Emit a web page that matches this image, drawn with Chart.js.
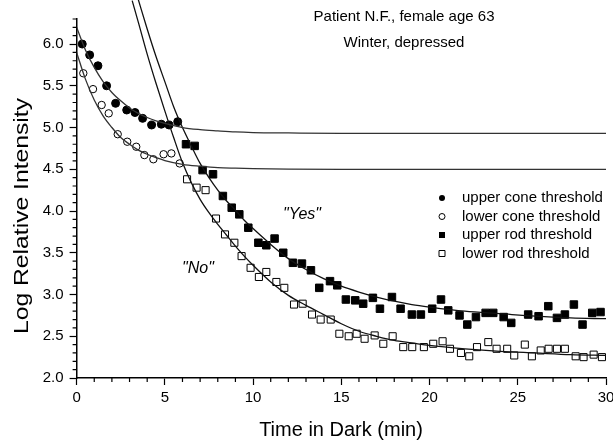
<!DOCTYPE html>
<html>
<head>
<meta charset="utf-8">
<script src="https://cdn.jsdelivr.net/npm/chart.js@4.4.1/dist/chart.umd.min.js"></script>
<style>
  html, body { margin: 0; padding: 0; background: #fff; }
  #wrap { width: 613px; height: 443px; position: relative; }
</style>
</head>
<body>
<div id="wrap"><canvas id="darkChart"></canvas></div>
<script>
// Dark adaptation thresholds - Patient N.F., winter, depressed
// Measured points (time in min, log relative intensity)

const upperConeTime = [0.32, 0.74, 1.21, 1.70, 2.21, 2.84, 3.31, 3.74, 4.25, 4.80, 5.24, 5.73];
const upperConeLog  = [6.00, 5.87, 5.74, 5.50, 5.29, 5.21, 5.18, 5.11, 5.03, 5.04, 5.03, 5.07];

const lowerConeTime = [0.38, 0.93, 1.42, 1.82, 2.33, 2.87, 3.38, 3.84, 4.35, 4.93, 5.37, 5.84];
const lowerConeLog  = [5.65, 5.46, 5.27, 5.17, 4.92, 4.83, 4.77, 4.67, 4.62, 4.68, 4.69, 4.57];

const upperRodTime = [6.20, 6.69, 7.14, 7.73, 8.29, 8.79, 9.22, 9.73, 10.30, 10.75, 11.22, 11.71,
    12.26, 12.77, 13.28, 13.75, 14.36, 14.77, 15.26, 15.79, 16.24, 16.79, 17.19, 17.87, 18.36,
    19.00, 19.51, 20.15, 20.65, 21.06, 21.70, 22.14, 22.63, 23.18, 23.61, 24.20, 24.63, 25.59,
    26.18, 26.73, 27.22, 27.67, 28.18, 28.67, 29.22, 29.69];
const upperRodLog = [4.80, 4.78, 4.49, 4.44, 4.18, 4.04, 3.96, 3.80, 3.62, 3.59, 3.67, 3.50,
    3.38, 3.37, 3.29, 3.08, 3.16, 3.11, 2.94, 2.93, 2.89, 2.96, 2.83, 2.97, 2.83,
    2.76, 2.76, 2.83, 2.94, 2.81, 2.75, 2.64, 2.73, 2.78, 2.78, 2.73, 2.66, 2.76,
    2.74, 2.86, 2.72, 2.76, 2.88, 2.64, 2.78, 2.79];

const lowerRodTime = [6.26, 6.80, 7.31, 7.90, 8.41, 8.94, 9.35, 9.86, 10.33, 10.75, 11.32, 11.77,
    12.32, 12.81, 13.34, 13.83, 14.40, 14.89, 15.42, 15.87, 16.32, 16.89, 17.38, 17.91, 18.51,
    19.02, 19.68, 20.21, 20.74, 21.16, 21.78, 22.25, 22.69, 23.33, 23.80, 24.40, 24.80, 25.40,
    25.80, 26.30, 26.75, 27.22, 27.67, 28.28, 28.73, 29.30, 29.77];
const lowerRodLog = [4.38, 4.28, 4.25, 3.91, 3.72, 3.62, 3.46, 3.32, 3.21, 3.27, 3.15, 3.08,
    2.88, 2.89, 2.76, 2.70, 2.70, 2.53, 2.50, 2.53, 2.47, 2.51, 2.41, 2.50, 2.37,
    2.37, 2.37, 2.41, 2.44, 2.35, 2.30, 2.26, 2.37, 2.43, 2.35, 2.35, 2.27, 2.40,
    2.26, 2.33, 2.35, 2.35, 2.35, 2.26, 2.25, 2.28, 2.25];

// Fitted curves
const coneFitTime = [0, 0.5, 1, 1.5, 2, 2.5, 3, 3.5, 4, 4.5, 5, 6, 7, 8, 9, 10, 12, 15, 20, 25, 30];
const upperConeFit = [6.20, 5.93, 5.72, 5.55, 5.42, 5.32, 5.235, 5.17, 5.12, 5.08, 5.05, 5.00,
    4.975, 4.96, 4.947, 4.94, 4.935, 4.93, 4.93, 4.93, 4.93];
const lowerConeFit = [5.90, 5.58, 5.33, 5.14, 5.00, 4.88, 4.80, 4.73, 4.68, 4.64, 4.605, 4.56,
    4.537, 4.52, 4.513, 4.508, 4.503, 4.50, 4.50, 4.50, 4.50];

const yesFitTime = [3.5, 4, 4.5, 5, 5.5, 6, 6.5, 7, 7.5, 8, 8.5, 9, 9.5, 10, 11, 12, 13, 14, 15,
    16, 17, 18, 19, 20, 22, 24, 26, 28, 30];
const yesFit = [6.53, 6.18, 5.85, 5.55, 5.25, 5.00, 4.78, 4.57, 4.40, 4.25, 4.12, 4.01, 3.89, 3.79,
    3.60, 3.43, 3.30, 3.19, 3.10, 3.03, 2.97, 2.92, 2.88, 2.85, 2.80, 2.77, 2.74, 2.72, 2.71];

const noFitTime = [3.15, 3.5, 4, 4.5, 5, 5.5, 6, 6.5, 7, 7.5, 8, 8.5, 9, 9.5, 10, 11, 12, 13, 14,
    15, 16, 17, 18, 19, 20, 22, 24, 26, 28, 30];
const noFit = [6.52, 6.26, 5.88, 5.53, 5.20, 4.88, 4.58, 4.34, 4.14, 3.98, 3.84, 3.71, 3.58, 3.46,
    3.35, 3.15, 2.99, 2.87, 2.76, 2.65, 2.56, 2.50, 2.45, 2.42, 2.39, 2.35, 2.32, 2.30, 2.28, 2.27];

// Axis ticks
const xTicks = [0, 5, 10, 15, 20, 25, 30];
const xTickLabels = ["0", "5", "10", "15", "20", "25", "30"];
const yTicks = [2.0, 2.5, 3.0, 3.5, 4.0, 4.5, 5.0, 5.5, 6.0];
const yTickLabels = ["2.0", "2.5", "3.0", "3.5", "4.0", "4.5", "5.0", "5.5", "6.0"];

const legendLabels = ["upper cone threshold", "lower cone threshold", "upper rod threshold", "lower rod threshold"];

const FONT = "'Liberation Sans', Arial, Helvetica, sans-serif";

function pairs(xs, ys) {
    return xs.map(function(x, i) { return { x: x, y: ys[i] }; });
}

function fitLine(xs, ys, color) {
    return {
        data: pairs(xs, ys),
        showLine: true,
        borderColor: color,
        borderWidth: 1.3,
        pointRadius: 0,
        pointHoverRadius: 0,
        cubicInterpolationMode: "monotone",
        fill: false,
        clip: { left: 0, top: false, right: 0, bottom: 0 }
    };
}

const datasets = [
    fitLine(coneFitTime, upperConeFit, "#333"),
    fitLine(coneFitTime, lowerConeFit, "#333"),
    fitLine(yesFitTime, yesFit, "#111"),
    fitLine(noFitTime, noFit, "#111"),
    {
        label: legendLabels[0],
        data: pairs(upperConeTime, upperConeLog),
        pointStyle: "circle", pointRadius: 4,
        backgroundColor: "#000", borderColor: "#000", borderWidth: 1
    },
    {
        label: legendLabels[1],
        data: pairs(lowerConeTime, lowerConeLog),
        pointStyle: "circle", pointRadius: 3.7,
        backgroundColor: "#fff", borderColor: "#000", borderWidth: 1
    },
    {
        label: legendLabels[2],
        data: pairs(upperRodTime, upperRodLog),
        pointStyle: "rect", pointRadius: 5.3,
        backgroundColor: "#000", borderColor: "#000", borderWidth: 1
    },
    {
        label: legendLabels[3],
        data: pairs(lowerRodTime, lowerRodLog),
        pointStyle: "rect", pointRadius: 5.0,
        backgroundColor: "#fff", borderColor: "#000", borderWidth: 1
    }
];

// minor ticks, legend and free text
const decorPlugin = {
    id: "decor",
    afterDraw(chart) {
        const ctx = chart.ctx;
        const xs = chart.scales.x;
        const ys = chart.scales.y;
        const area = chart.chartArea;
        ctx.save();
        ctx.strokeStyle = "#000";
        ctx.lineWidth = 1.2;

        // minor ticks
        ctx.beginPath();
        for (let t = 1; t < 30; t++) {
            if (t % 5 === 0) continue;
            const px = xs.getPixelForValue(t);
            ctx.moveTo(px, area.bottom);
            ctx.lineTo(px, area.bottom + 4);
        }
        for (let k = 21; k <= 63; k++) {
            if (k % 5 === 0) continue;
            const py = ys.getPixelForValue(k / 10);
            ctx.moveTo(area.left - 4, py);
            ctx.lineTo(area.left, py);
        }
        ctx.stroke();

        // titles
        ctx.fillStyle = "#000";
        ctx.textAlign = "center";
        ctx.textBaseline = "middle";
        ctx.font = "15px " + FONT;
        ctx.fillText("Patient N.F., female age 63", 404, 17);
        ctx.fillText("Winter, depressed", 404, 43);

        ctx.font = "italic 16px " + FONT;
        ctx.fillText("\"Yes\"", 302, 215);
        ctx.fillText("\"No\"", 198, 269);

        ctx.font = "20px " + FONT;
        ctx.fillText("Time in Dark (min)", 341, 430);

        // y title is set wider in the original
        ctx.save();
        ctx.font = "21px " + FONT;
        const yTitle = "Log Relative Intensity";
        const stretch = 236 / ctx.measureText(yTitle).width;
        ctx.translate(22, 216);
        ctx.rotate(-Math.PI / 2);
        ctx.scale(stretch, 1);
        ctx.fillText(yTitle, 0, 0);
        ctx.restore();

        // legend
        const rowY = [198, 216.5, 235, 253.5];
        ctx.font = "15px " + FONT;
        ctx.textAlign = "left";
        for (let i = 0; i < 4; i++) {
            const cx = 442, cy = rowY[i];
            ctx.beginPath();
            if (i < 2) {
                ctx.arc(cx, cy, 3, 0, Math.PI * 2);
            } else {
                ctx.rect(cx - 3, cy - 3, 6, 6);
            }
            if (i % 2 === 0) {
                ctx.fillStyle = "#000";
                ctx.fill();
            } else {
                ctx.lineWidth = 1;
                ctx.stroke();
            }
            ctx.fillStyle = "#000";
            ctx.fillText(legendLabels[i], 462, cy);
        }
        ctx.restore();
    }
};

Chart.defaults.font.family = FONT;
Chart.defaults.color = "#000";

new Chart(document.getElementById("darkChart"), {
    type: "scatter",
    data: { datasets: datasets },
    options: {
        responsive: true,
        maintainAspectRatio: false,
        animation: false,
        events: [],
        layout: { padding: { left: 0, top: 19, right: 7, bottom: 0 } },
        plugins: { legend: { display: false }, tooltip: { enabled: false } },
        scales: {
            x: {
                type: "linear",
                min: 0,
                max: 30,
                afterBuildTicks(scale) {
                    scale.ticks = xTicks.map(function(v) { return { value: v }; });
                },
                afterFit(scale) {
                    scale.height = 65;
                    scale.paddingLeft = 0;
                    scale.paddingRight = 0;
                },
                ticks: {
                    autoSkip: false,
                    maxRotation: 0,
                    padding: 4,
                    font: { size: 15 },
                    callback: function(v) { return xTickLabels[xTicks.indexOf(v)]; }
                },
                grid: { drawOnChartArea: false, tickLength: 7, tickColor: "#000", tickWidth: 1.2 },
                border: { color: "#000", width: 1.5 }
            },
            y: {
                type: "linear",
                min: 2.0,
                max: 6.3,
                afterBuildTicks(scale) {
                    scale.ticks = yTicks.map(function(v) { return { value: v }; });
                },
                afterFit(scale) {
                    scale.width = 76.6;
                    scale.paddingTop = 0;
                    scale.paddingBottom = 0;
                },
                ticks: {
                    autoSkip: false,
                    padding: 6,
                    font: { size: 15 },
                    callback: function(v) { return yTickLabels[yTicks.indexOf(v)]; }
                },
                grid: { drawOnChartArea: false, tickLength: 7, tickColor: "#000", tickWidth: 1.2 },
                border: { color: "#000", width: 1.5 }
            }
        }
    },
    plugins: [decorPlugin]
});
</script>
</body>
</html>
